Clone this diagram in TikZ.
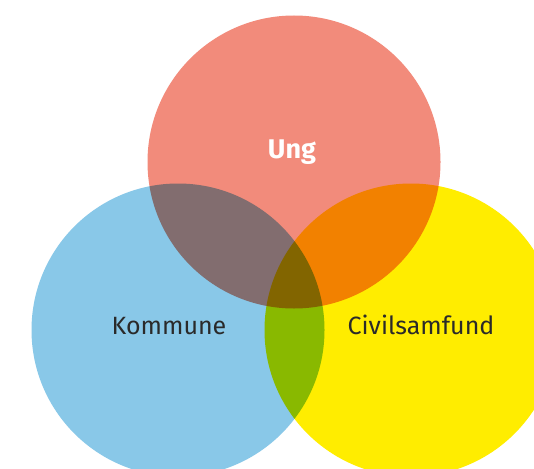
\documentclass[tikz,border=0pt]{standalone}
\usepackage{fontspec}
\setmainfont{Fira Sans}
\definecolor{ungred}{HTML}{F28B7B}
\definecolor{komblue}{HTML}{89C8E8}
\definecolor{civyellow}{HTML}{FFED00}
\definecolor{labeltext}{HTML}{2A2A2A}
\tikzset{
  venn/.style={circle, minimum size=293pt, inner sep=0pt, draw=none},
  lbl/.style={font=\fontsize{25}{30}\selectfont, text=labeltext, anchor=base, inner sep=0pt},
}
\begin{document}
\begin{tikzpicture}[x=1pt,y=-1pt]
\useasboundingbox (0,0) rectangle (534,468);
\fill[white] (0,0) rectangle (534,468);
\clip (0,0) rectangle (534,468);
\begin{scope}[blend group=multiply]
  \node[venn, fill=ungred] (ung) at (294,162) {};
  \node[venn, fill=komblue] (kom) at (178,330) {};
  \node[venn, fill=civyellow] (civ) at (411,330) {};
\end{scope}
\node[lbl, text=white, font=\fontsize{27}{32}\selectfont\bfseries] (tung) at (292,158) {Ung};
\node[lbl] (tkom) at (169,334) {Kommune};
\node[lbl] (tciv) at (421,334) {Civilsamfund};
\end{tikzpicture}
\end{document}
